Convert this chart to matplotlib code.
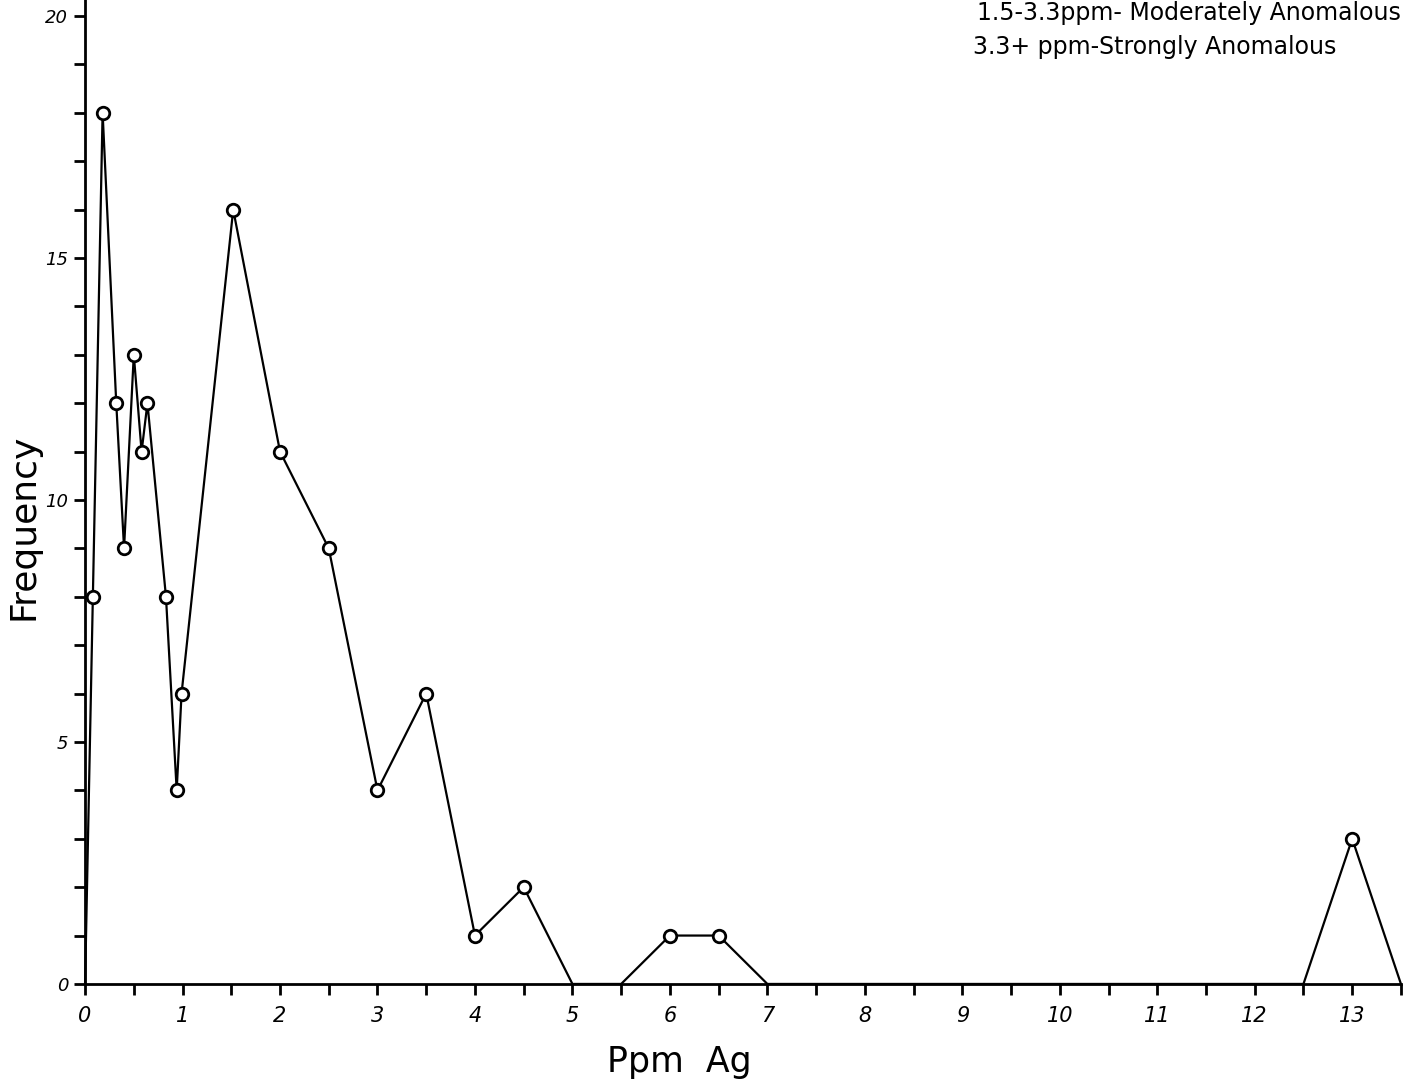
import numpy as np
import matplotlib.pyplot as plt

# Frequency distribution of Ag (ppm) in samples
ppm = [0.0, 0.08, 0.18, 0.32, 0.40, 0.50, 0.58, 0.64, 0.83, 0.94, 0.99,
       1.52, 2.0, 2.5, 3.0, 3.5, 4.0, 4.5, 5.0, 5.5, 6.0, 6.5, 7.0,
       12.5, 13.0, 13.5]
freq = [0, 8, 18, 12, 9, 13, 11, 12, 8, 4, 6,
        16, 11, 9, 4, 6, 1, 2, 0, 0, 1, 1, 0,
        0, 3, 0]
xtick_labels = [str(i) for i in range(14)]
ytick_labels = ['0', '5', '10', '15', '20']
notes = ['1.5-3.3ppm- Moderately Anomalous', '3.3+ ppm-Strongly Anomalous']

fig = plt.figure(figsize=(14.06, 10.87), dpi=100)
ax = fig.add_axes([0.0605, 0.0948, 0.9359, 0.9052])

x = np.array(ppm)
y = np.array(freq)
ax.plot(x, y, color='black', lw=1.6, marker='o', ms=9, mfc='white',
        mec='black', mew=2, markevery=list(y > 0), clip_on=False, zorder=3)

ax.set_xlim(0, 13.5)
ax.set_ylim(0, 20.33)
ax.spines['top'].set_visible(False)
ax.spines['right'].set_visible(False)
ax.spines['left'].set_linewidth(2)
ax.spines['bottom'].set_linewidth(2)

ax.set_xticks(np.arange(0, 14))
ax.set_xticklabels(xtick_labels, fontsize=15, style='italic')
ax.set_xticks(np.arange(0.5, 14, 1), minor=True)
ax.set_yticks([0, 5, 10, 15, 20])
ax.set_yticklabels(ytick_labels, fontsize=13, style='italic')
ax.set_yticks(np.arange(0, 21, 1), minor=True)
ax.tick_params(axis='both', which='both', direction='out', width=2, length=8)
ax.tick_params(axis='x', pad=8)
ax.tick_params(axis='y', pad=4)

fig.text(679 / 1406, 1 - 1062 / 1087, 'Ppm  Ag', fontsize=25,
         ha='center', va='center')
fig.text(24 / 1406, 1 - 527 / 1087, 'Frequency', fontsize=26,
         rotation=90, ha='center', va='center')

fig.text(0.695, 0.999, notes[0], fontsize=17, va='top', ha='left')
fig.text(0.692, 0.957, notes[1], fontsize=17, va='center', ha='left')

fig.savefig('out.png', dpi=100)
